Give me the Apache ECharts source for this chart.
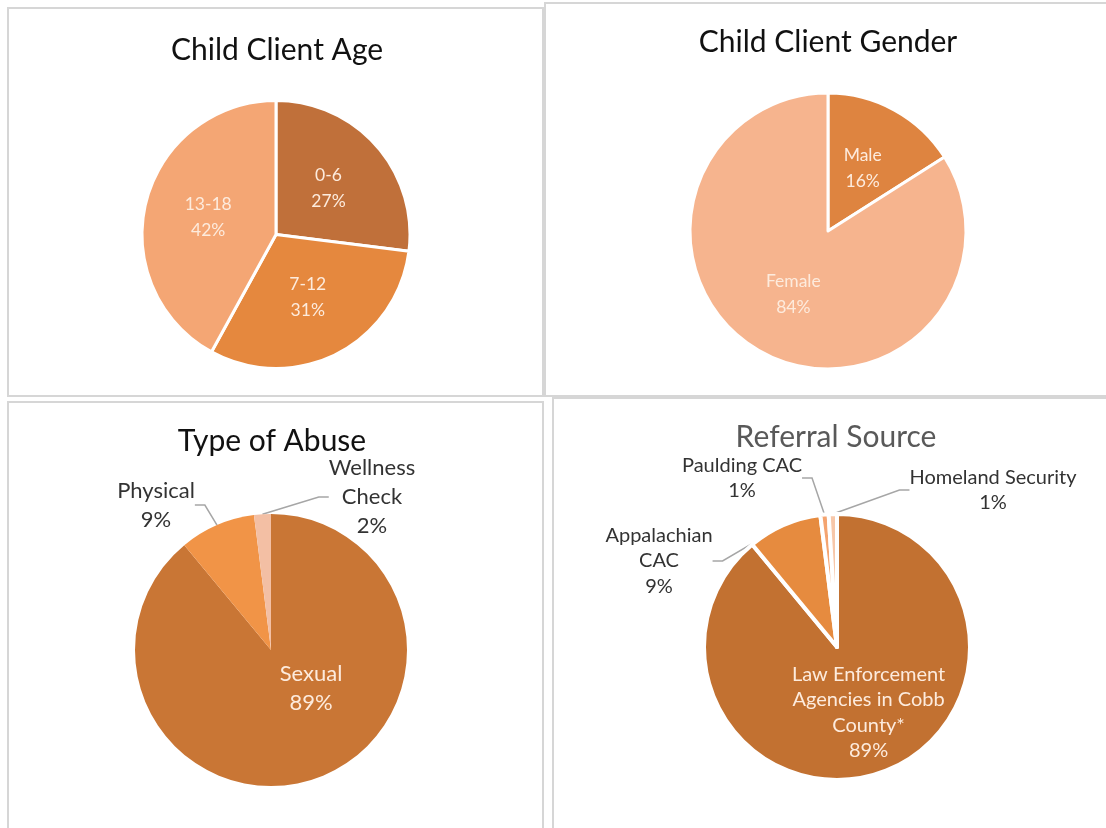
<!DOCTYPE html>
<html><head><meta charset="utf-8">
<script src="https://cdn.jsdelivr.net/npm/echarts@6/dist/echarts.min.js"></script>
<style>html,body{margin:0;padding:0;background:#fff}#c{width:1106px;height:828px}</style>
</head><body><div id="c"></div>
<script>
// ---- data ----
const ageCats = ['0-6', '7-12', '13-18'];
const ageVals = [27, 31, 42];
const genderCats = ['Male', 'Female'];
const genderVals = [16, 84];
const abuseCats = ['Sexual', 'Physical', 'Wellness\nCheck'];
const abuseVals = [89, 9, 2];
const referralCats = ['Law Enforcement\nAgencies in Cobb\nCounty*', 'Appalachian\nCAC', 'Paulding CAC', 'Homeland Security'];
const referralVals = [89, 9, 1, 1];
const titles = ['Child Client Age', 'Child Client Gender', 'Type of Abuse', 'Referral Source'];

// ---- styling ----
const FONT = 'Lato, "Open Sans", sans-serif';
const ageColors = ['#C0703A', '#E5883E', '#F4A674'];
const genderColors = ['#DE8440', '#F6B48E'];
const abuseColors = ['#C97635', '#F19447', '#F3BFA4'];
const referralColors = ['#C27131', '#E68B3F', '#F4A470', '#F7C7A9'];
const inColor = '#FDEBDD';
const outColor = '#333333';

function build(cats, vals, colors, opts) {
  return cats.map((c, i) => {
    const outside = opts.outside && opts.outside.indexOf(i) >= 0;
    return {
      name: c, value: vals[i],
      itemStyle: { color: colors[i] },
      label: outside ? { position: 'outside', color: outColor } : { position: 'inside', color: inColor },
      labelLine: { show: outside }
    };
  });
}

function pieSeries(cats, vals, colors, center, radius, opts) {
  return {
    type: 'pie',
    center: center, radius: radius,
    startAngle: 90, clockwise: true,
    animation: false, silent: true,
    itemStyle: { borderColor: '#ffffff', borderWidth: opts.border },
    label: {
      show: true, fontFamily: FONT, fontSize: opts.fs, lineHeight: opts.lh,
      formatter: p => p.name + '\n' + p.value + '%'
    },
    labelLine: { lineStyle: { color: '#A6A6A6', width: 1.5 }, length: 10, length2: 10 },
    labelLayout: opts.layout,
    data: build(cats, vals, colors, opts)
  };
}

const abuseLayout = p => {
  if (p.dataIndex === 0) return { dx: 16, dy: -28 };
  if (p.dataIndex === 1) return { x: 156, y: 505, align: 'center', verticalAlign: 'middle' };
  if (p.dataIndex === 2) return { x: 372, y: 497, align: 'center', verticalAlign: 'middle' };
};
const refLayout = p => {
  if (p.dataIndex === 0) return { dx: 8, dy: 0 };
  if (p.dataIndex === 1) return { x: 659, y: 561, align: 'center', verticalAlign: 'middle' };
  if (p.dataIndex === 2) return { x: 742, y: 478, align: 'center', verticalAlign: 'middle' };
  if (p.dataIndex === 3) return { x: 993, y: 490, align: 'center', verticalAlign: 'middle' };
};

const border = '#D6D6D6';
const TF = '30px ' + FONT;
const option = {
  backgroundColor: '#ffffff',
  graphic: [
    { type: 'rect', shape: { x: 8, y: 8, width: 535, height: 388 }, style: { fill: 'none', stroke: border, lineWidth: 2 }, z: 0 },
    { type: 'rect', shape: { x: 545, y: 3, width: 570, height: 393 }, style: { fill: 'none', stroke: border, lineWidth: 2 }, z: 0 },
    { type: 'rect', shape: { x: 8, y: 402, width: 535, height: 440 }, style: { fill: 'none', stroke: border, lineWidth: 2 }, z: 0 },
    { type: 'rect', shape: { x: 553, y: 398, width: 570, height: 440 }, style: { fill: 'none', stroke: border, lineWidth: 2 }, z: 0 },
    { type: 'text', x: 277, y: 50, style: { text: titles[0], font: TF, fill: '#111', textAlign: 'center', textVerticalAlign: 'middle' } },
    { type: 'text', x: 828, y: 42, style: { text: titles[1], font: TF, fill: '#111', textAlign: 'center', textVerticalAlign: 'middle' } },
    { type: 'text', x: 272, y: 441, style: { text: titles[2], font: TF, fill: '#111', textAlign: 'center', textVerticalAlign: 'middle' } },
    { type: 'text', x: 836, y: 437, style: { text: titles[3], font: TF, fill: '#595959', textAlign: 'center', textVerticalAlign: 'middle' } }
  ],
  series: [
    pieSeries(ageCats, ageVals, ageColors, [276, 234.5], 134, { border: 3, fs: 17.5, lh: 26 }),
    pieSeries(genderCats, genderVals, genderColors, [828, 231], 138, { border: 3, fs: 17.5, lh: 26 }),
    pieSeries(abuseCats, abuseVals, abuseColors, [271, 650], 136, { border: 0, fs: 22, lh: 29, outside: [1, 2], layout: abuseLayout }),
    pieSeries(referralCats, referralVals, referralColors, [837, 647], 133, { border: 4, fs: 20, lh: 25.5, outside: [1, 2, 3], layout: refLayout })
  ]
};
const chart = echarts.init(document.getElementById('c'), null, { renderer: 'canvas' });
chart.setOption(option);
</script>
</body></html>
